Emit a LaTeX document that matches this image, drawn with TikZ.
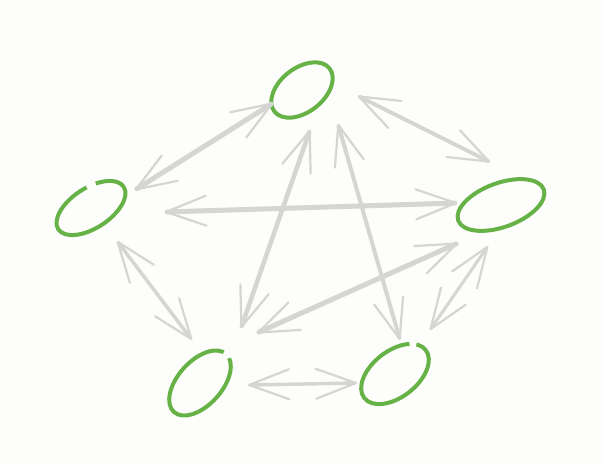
\documentclass[tikz,border=0pt]{standalone}
\usetikzlibrary{arrows.meta,shapes.geometric}
\definecolor{nodegreen}{RGB}{103,178,70}
\definecolor{edgegray}{RGB}{213,214,212}
\definecolor{paper}{RGB}{253,253,251}
\tikzset{
  vertex/.style={ellipse,draw=nodegreen,line width=4pt,inner sep=0pt},
  barb/.tip={Straight Barb[length=40pt,width=30pt,line width=2.2pt,round]},
  link/.style={draw=edgegray,line cap=round,barb-barb}
}
\begin{document}
\begin{tikzpicture}[x=1pt,y=-1pt]
  \fill[paper] (0,0) rectangle (604,464);
  % the five vertices
  \node[vertex,minimum width=70pt,minimum height=44pt,rotate=38] (T) at (302,90) {};
  \node[vertex,minimum width=78pt,minimum height=40pt,rotate=33,
        dash pattern=on 30pt off 10pt on 300pt] (L) at (91,208) {};
  \node[vertex,minimum width=91pt,minimum height=44pt,rotate=20] (R) at (501,205) {};
  \node[vertex,minimum width=78pt,minimum height=44pt,rotate=48,
        dash pattern=on 0pt off 3pt on 187pt off 20pt] (BL) at (200,383) {};
  \node[vertex,minimum width=78pt,minimum height=46pt,rotate=38,
        dash pattern=on 11pt off 7pt on 300pt] (BR) at (395,374) {};
  % two-way links, tips given as offsets from the centres
  \foreach \A/\p/\B/\q/\w in {%
    L/{44,-18}/T/{-29,13}/5,
    T/{56,6}/R/{-11,-43}/4,
    L/{74,4}/R/{-44,-2}/5,
    T/{8,40}/BL/{41,-55}/4.5,
    T/{36,34}/BR/{5,-34}/4,
    R/{-43,38}/BL/{57,-50}/5,
    R/{-13,41}/BR/{35,-44}/3,
    L/{26,33}/BL/{-8,-43}/3.5,
    BL/{48,2}/BR/{-38,9}/3.5}{%
      \draw[link,line width=\w pt] ([shift={(\p)}]\A.center) -- ([shift={(\q)}]\B.center);
    }
\end{tikzpicture}
\end{document}
